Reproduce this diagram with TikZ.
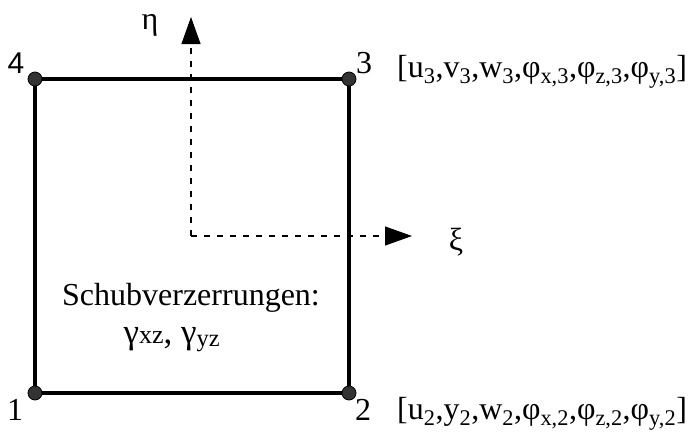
\documentclass[tikz,border=0pt]{standalone}
\usepackage{fontspec}
\setmainfont{Liberation Serif}
\newfontfamily\sansdigit{Liberation Sans}
\usetikzlibrary{arrows.meta,positioning}
\tikzset{corner/.style={circle,draw=black,fill=black!80,line width=0.8pt,inner sep=0pt,minimum size=14pt},
 edgeline/.style={draw=black,line width=3.6pt},
 axisarrow/.style={-{Triangle[length=27pt,width=19pt]},draw=black,dash pattern=on 6pt off 7pt,line width=1.1pt},
 lbl/.style={font=\fontsize{32}{38}\selectfont,inner sep=0pt}}
\newcommand{\sbs}[1]{\textsubscript{#1}}

\begin{document}
\begin{tikzpicture}[x=1pt,y=-1pt]
\useasboundingbox (0,0) rectangle (689,432);
% element corners
\node[corner] (n1) at (35,393) {};
\node[corner] (n2) at (349,393) {};
\node[corner] (n3) at (349,79) {};
\node[corner] (n4) at (35,79) {};
\draw[edgeline] (n1)--(n2)--(n3)--(n4)--(n1);
% local axes
\coordinate (o) at (191,236);
\coordinate (etatip) at (191,17);
\coordinate (xitip) at (412,236);
\draw[axisarrow] (o)--(etatip);
\draw[axisarrow] (o)--(xitip);
\node[lbl] (eta) at (150,25) {η};
\node[lbl] (xi) at (456,242) {ξ};
% node numbers
\node[lbl] (l1) at (15,410) {1};
\node[lbl] (l2) at (363,410) {2};
\node[lbl] (l3) at (364,63) {3};
\node[lbl,font=\sansdigit\fontsize{30}{36}\selectfont] (l4) at (16,63) {4};
% degrees of freedom
\node[lbl,anchor=base west] (dof3) at (397,77) {[u\sbs{3},v\sbs{3},w\sbs{3},φ\sbs{x,3},φ\sbs{z,3},φ\sbs{y,3}]};
\node[lbl,anchor=base west] (dof2) at (397,419) {[u\sbs{2},y\sbs{2},w\sbs{2},φ\sbs{x,2},φ\sbs{z,2},φ\sbs{y,2}]};
% shear strains
\node[lbl,anchor=base] (shear) at (191,305) {Schubverzerrungen:};
\node[lbl,anchor=base,font=\fontsize{35}{40}\selectfont] (gam) at (172,343) {γ{\fontsize{26}{30}\selectfont xz}, γ\sbs{yz}};
\end{tikzpicture}
\end{document}
